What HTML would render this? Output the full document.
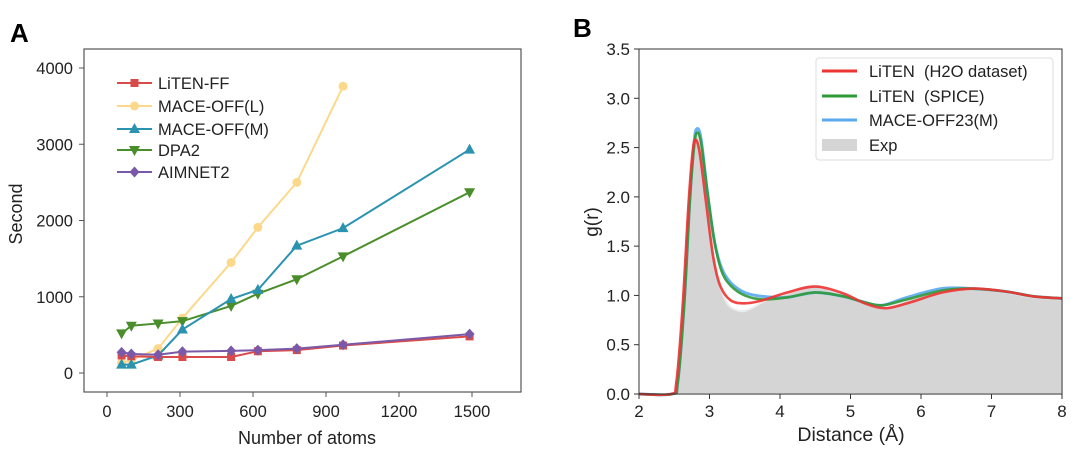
<!DOCTYPE html>
<html><head><meta charset="utf-8"><style>
body{margin:0;background:#fff}
svg{display:block;font-family:"Liberation Sans","DejaVu Sans",sans-serif}
</style></head><body>
<svg id="s" width="1080" height="454" viewBox="0 0 1080 454">
<text x="10" y="42" font-size="26" font-weight="bold">A</text>
<text x="573" y="37" font-size="26" font-weight="bold">B</text>
<g id="A"></g><g id="B"></g>
</svg>
<script>
const NS="http://www.w3.org/2000/svg";
function el(p,t,a,txt){const e=document.createElementNS(NS,t);for(const k in a)e.setAttribute(k,a[k]);if(txt!=null)e.textContent=txt;p.appendChild(e);return e;}
const A=document.getElementById('A');
const X=v=>107+v*(365/1500), Y=v=>373-v*0.07625;
el(A,'rect',{x:84,y:49,width:437,height:343,fill:'none',stroke:'#555','stroke-width':1.2});
[0,300,600,900,1200,1500].forEach(v=>{el(A,'line',{x1:X(v),x2:X(v),y1:392,y2:397,stroke:'#555'});el(A,'text',{x:X(v),y:417,'font-size':16.5,'text-anchor':'middle',fill:'#222'},v)});
[0,1000,2000,3000,4000].forEach(v=>{el(A,'line',{x1:79,x2:84,y1:Y(v),y2:Y(v),stroke:'#555'});el(A,'text',{x:73,y:Y(v)+6,'font-size':16.5,'text-anchor':'end',fill:'#222'},v)});
el(A,'text',{x:307,y:444,'font-size':18,'text-anchor':'middle',fill:'#222'},'Number of atoms');
el(A,'text',{x:22,y:214,'font-size':18,'text-anchor':'middle',fill:'#222',transform:'rotate(-90 22 214)'},'Second');
const xs=[60,100,210,310,510,620,780,970,1490];
const S=[
['LiTEN-FF','#d94b4b','sq',[230,220,210,210,210,285,300,360,480]],
['MACE-OFF(L)','#fcd98a','ci',[130,170,320,720,1450,1910,2500,3760]],
['MACE-OFF(M)','#2b93b0','tu',[110,110,230,570,970,1090,1670,1900,2930]],
['DPA2','#4a8e2b','td',[520,620,650,680,880,1040,1230,1530,2370]],
['AIMNET2','#7a5aa8','di',[270,250,240,280,290,300,320,370,510]]];
function mark(g,t,x,y,c){
 if(t=='sq')el(g,'rect',{x:x-4,y:y-4,width:8,height:8,fill:c});
 if(t=='ci')el(g,'circle',{cx:x,cy:y,r:4.5,fill:c});
 if(t=='tu')el(g,'polygon',{points:`${x},${y-6} ${x-5.5},${y+4} ${x+5.5},${y+4}`,fill:c});
 if(t=='td')el(g,'polygon',{points:`${x},${y+6} ${x-5.5},${y-4} ${x+5.5},${y-4}`,fill:c});
 if(t=='di')el(g,'polygon',{points:`${x},${y-5.5} ${x+5},${y} ${x},${y+5.5} ${x-5},${y}`,fill:c});
}
[1,3,2,0,4].forEach(i=>{const [n,c,t,d]=S[i];const pts=d.map((v,j)=>[X(xs[j]),Y(v)]);
 el(A,'polyline',{points:pts.map(p=>p.join(',')).join(' '),fill:'none',stroke:c,'stroke-width':2});
 pts.forEach(p=>mark(A,t,p[0],p[1],c));});
const ly=[83,106,129,150,172];
S.forEach(([n,c,t],i)=>{el(A,'line',{x1:117,x2:152,y1:ly[i],y2:ly[i],stroke:c,'stroke-width':2});mark(A,t,134.5,ly[i],c);
 el(A,'text',{x:158,y:ly[i]+6,'font-size':16.5,fill:'#222'},n)});
const B=document.getElementById('B');
const bx=v=>639+(v-2)*70.5, by=v=>394-v*98.57;
function cr(pts){
 let s=`M${bx(pts[0][0])},${by(pts[0][1])}`;
 for(let i=0;i<pts.length-1;i++){const p0=pts[i-1]||pts[i],p1=pts[i],p2=pts[i+1],p3=pts[i+2]||p2;
  const P=q=>[bx(q[0]),by(q[1])];const a=P(p0),b=P(p1),c=P(p2),d=P(p3);
  s+=` C${b[0]+(c[0]-a[0])/6},${b[1]+(c[1]-a[1])/6} ${c[0]-(d[0]-b[0])/6},${c[1]-(d[1]-b[1])/6} ${c[0]},${c[1]}`;}
 return s;}
const ex=[[2,0],[2.45,0],[2.53,0.15],[2.62,0.9],[2.7,1.9],[2.77,2.5],[2.82,2.63],[2.88,2.5],[2.96,2.0],[3.05,1.45],[3.15,1.1],[3.27,0.9],[3.45,0.84],[3.6,0.87],[3.8,0.95],[4.1,1.02],[4.5,1.1],[4.9,1.0],[5.2,0.92],[5.5,0.88],[5.9,0.98],[6.3,1.06],[6.7,1.07],[7.2,1.03],[7.6,0.98],[8,0.96]];
const red=[[2,0],[2.45,0],[2.53,0.12],[2.62,0.9],[2.7,1.9],[2.76,2.45],[2.8,2.58],[2.86,2.45],[2.95,1.95],[3.05,1.4],[3.15,1.1],[3.3,0.95],[3.5,0.92],[3.75,0.95],[4.1,1.03],[4.5,1.09],[4.9,1.02],[5.2,0.92],[5.5,0.87],[5.85,0.93],[6.3,1.03],[6.75,1.07],[7.2,1.04],[7.6,0.99],[8,0.97]];
const green=[[2,0],[2.47,0],[2.55,0.12],[2.64,0.9],[2.72,1.95],[2.78,2.5],[2.82,2.65],[2.88,2.55],[2.97,2.05],[3.07,1.55],[3.17,1.25],[3.3,1.1],[3.5,1.0],[3.75,0.96],[4.1,0.98],[4.5,1.03],[4.9,0.99],[5.2,0.93],[5.45,0.9],[5.8,0.96],[6.3,1.05],[6.7,1.07],[7.2,1.04],[7.6,0.99],[8,0.97]];
const blue=green.map(([x,y])=>[x,x>2.75&&x<2.9?y+0.04:(x>3.1&&x<3.8?y+0.03:(x>5.7&&x<6.5?y+0.02:y))]);
el(B,'path',{d:cr(ex)+` L${bx(8)},${by(0)} Z`,fill:'#d5d5d5',stroke:'#ececec','stroke-width':2});
el(B,'path',{d:cr(blue),fill:'none',stroke:'#5aa8ee','stroke-width':3,opacity:0.9});
el(B,'path',{d:cr(green),fill:'none',stroke:'#2e9a35','stroke-width':2.6,opacity:0.9});
el(B,'path',{d:cr(red),fill:'none',stroke:'#ee3333','stroke-width':2.6,opacity:0.9});
el(B,'rect',{x:639,y:49,width:423,height:345,fill:'none',stroke:'#333','stroke-width':1});
for(let v=2;v<=8;v++){el(B,'line',{x1:bx(v),x2:bx(v),y1:394,y2:399,stroke:'#333'});el(B,'text',{x:bx(v),y:417,'font-size':17,'text-anchor':'middle',fill:'#222'},v)}
for(let v=0;v<=3.5;v+=0.5){el(B,'line',{x1:634,x2:639,y1:by(v),y2:by(v),stroke:'#333'});el(B,'text',{x:630,y:by(v)+6,'font-size':17,'text-anchor':'end',fill:'#222'},v.toFixed(1))}
el(B,'text',{x:851,y:441,'font-size':19.5,'text-anchor':'middle',fill:'#222'},'Distance (Å)');
el(B,'text',{x:598,y:222,'font-size':19,'text-anchor':'middle',fill:'#222',transform:'rotate(-90 598 222)'},'g(r)');
el(B,'rect',{x:816,y:58,width:237,height:102,rx:3,fill:'#fff',stroke:'#ddd','fill-opacity':0.9});
const lb=[['LiTEN\u00a0\u00a0(H2O dataset)','#ee3333'],['LiTEN\u00a0\u00a0(SPICE)','#2e9a35'],['MACE-OFF23(M)','#5aa8ee']];
const bl=[71,96,120];
lb.forEach(([n,c],i)=>{el(B,'line',{x1:822,x2:857,y1:bl[i],y2:bl[i],stroke:c,'stroke-width':3});el(B,'text',{x:869,y:bl[i]+6,'font-size':16.5,fill:'#222'},n)});
el(B,'rect',{x:822,y:139,width:35,height:12,fill:'#d5d5d5'});
el(B,'text',{x:869,y:151,'font-size':16.5,fill:'#222'},'Exp');
</script>
</body></html>
